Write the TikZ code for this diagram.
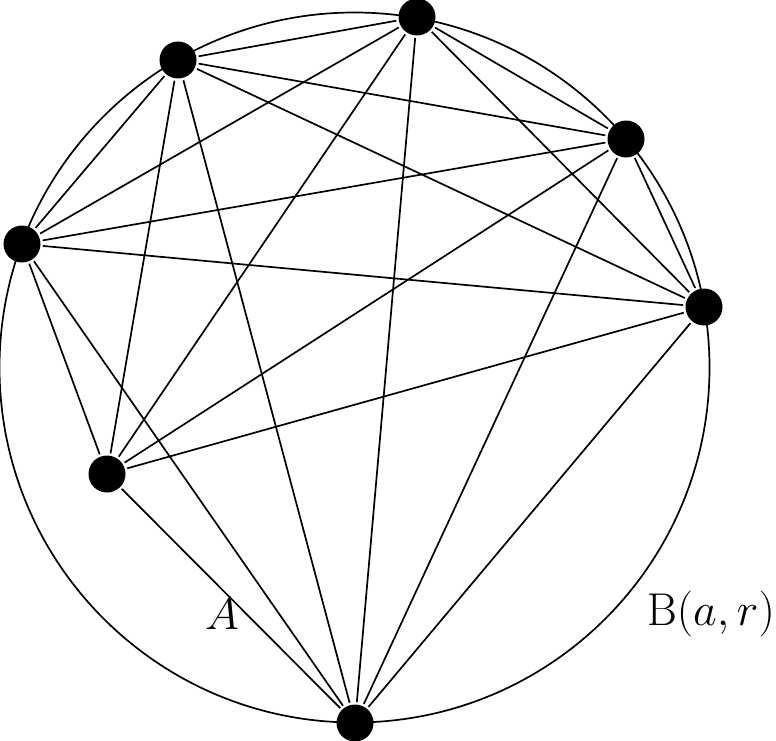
\RequirePackage{fix-cm}
\documentclass[tikz,border=0pt]{standalone}
\begin{document}
\begin{tikzpicture}[x=1pt,y=-1pt,
  dot/.style={circle,fill=black,inner sep=0pt,minimum size=37pt,outer sep=2.5pt},
  edge/.style={line width=1.7pt},
  lbl/.style={font=\fontsize{46}{50}\selectfont,inner sep=0pt}]
\useasboundingbox (0,0) rectangle (776,741);
\draw[edge] (354.5,367.5) circle[radius=355];
\node[dot] (p1) at (178,60) {};
\node[dot] (p2) at (417,17) {};
\node[dot] (p3) at (626,139) {};
\node[dot] (p4) at (704,307) {};
\node[dot] (p5) at (22,244) {};
\node[dot] (p6) at (107,474) {};
\node[dot] (p7) at (355,723) {};
\foreach \a/\b in {p1/p2,p1/p3,p1/p4,p1/p5,p1/p6,p1/p7,
                   p2/p3,p2/p4,p2/p5,p2/p6,p2/p7,
                   p3/p4,p3/p5,p3/p6,p3/p7,
                   p4/p5,p4/p6,p4/p7,
                   p5/p6,p5/p7,
                   p6/p7}
  \draw[edge] (\a) -- (\b);
\node[lbl] (la) at (222,614) {$A$};
\node[lbl,anchor=east] (lb) at (775,614) {$\mathrm{B}(a,r)$};
\end{tikzpicture}
\end{document}
